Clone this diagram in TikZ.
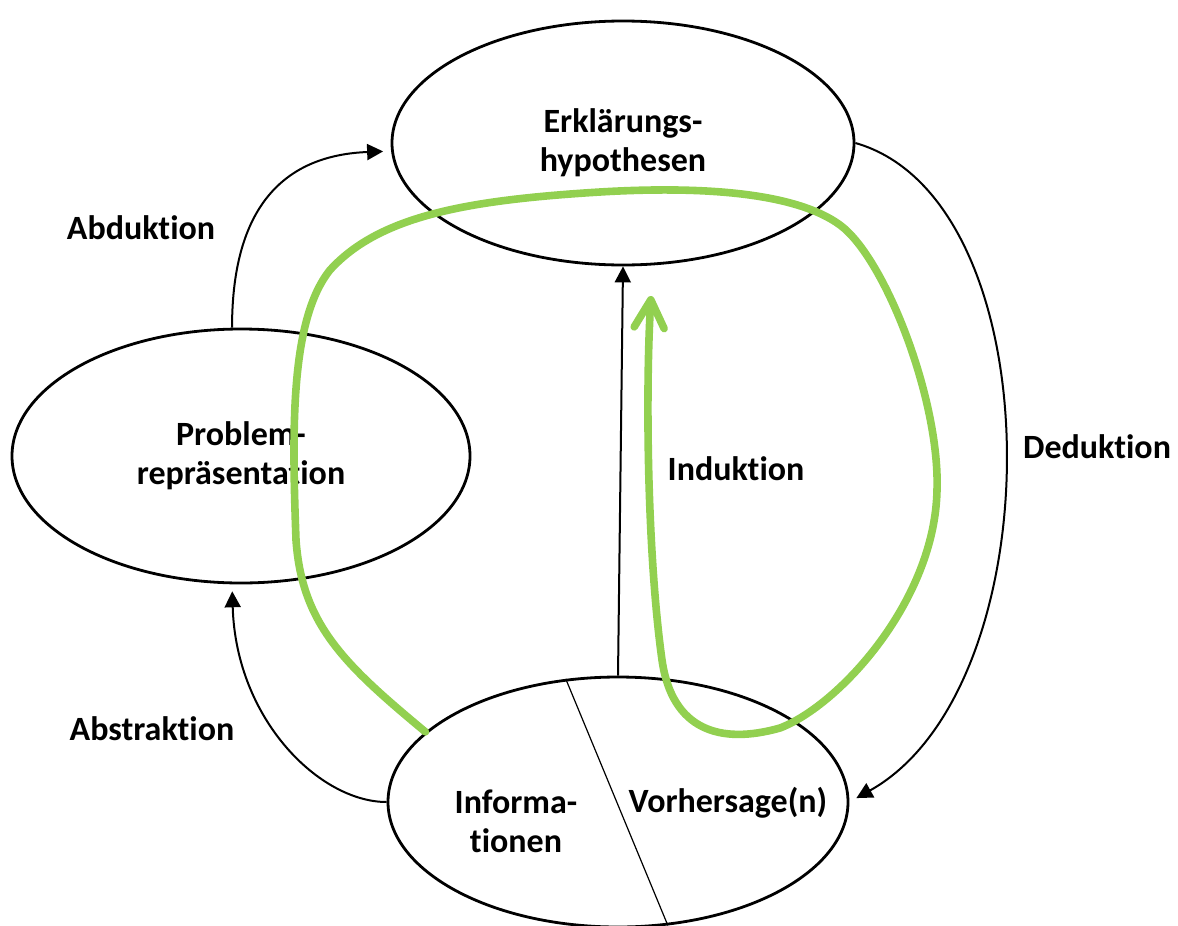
\documentclass[tikz,border=0pt]{standalone}
\usepackage{fontspec}
\setmainfont{Carlito}[Ligatures=NoCommon]
\usetikzlibrary{shapes.geometric,arrows.meta}
\definecolor{loopgreen}{RGB}{146,208,80}
\tikzset{
  ell/.style={ellipse, draw, line width=1.4pt, inner sep=0pt},
  lbl/.style={font=\bfseries\fontsize{17}{19.5}\selectfont, align=center},
  conn/.style={line width=1pt, -{Triangle[length=8pt,width=8pt]}},
  greenloop/.style={line width=3.8pt, draw=loopgreen, line cap=round, line join=round,
    -{Straight Barb[round,length=14pt,width=15pt]}}
}
\begin{document}
\begin{tikzpicture}[x=0.5pt,y=-0.5pt]
\useasboundingbox (0,0) rectangle (1178,926);
\clip (0,0) rectangle (1178,926);

% the three stations of the cycle
\node[ell, lbl, minimum width=231pt, minimum height=122pt] (hyp) at (623,143) {Erklärungs-\\hypothesen};
\node[ell, lbl, minimum width=229pt, minimum height=127pt] (prob) at (241,456) {Problem-\\repräsentation};
\node[ell, minimum width=230pt, minimum height=125pt] (info) at (618,802) {};
\node[lbl] (infotext) at (516,821) {Informa-\\tionen};
\node[lbl] (predtext) at (728,803) {Vorhersage(n)};
\draw[line width=0.6pt] (info.113.7) -- (info.-68.8);

% names of the inference steps
\node[lbl] (abd) at (141,228) {Abduktion};
\node[lbl] (abs) at (152,729) {Abstraktion};
\node[lbl] (ind) at (736,469) {Induktion};
\node[lbl] (ded) at (1097,447) {Deduktion};

% connectors
\draw[conn, shorten >=4pt] (prob.94.5) .. controls (232,200) and (290,155) .. (hyp.182);
\draw[conn, shorten >=3.5pt] (info.west) .. controls (320,802) and (236,720) .. (prob.266.4);
\draw[conn] (info.north) -- (hyp.south);
\draw[conn, shorten >=4pt] (hyp.east) .. controls (1055,200) and (1055,687) .. (info.east);

% highlighted route
\draw[greenloop] (info.160.3)
  .. controls (345,665) and (302,625) .. (296,540)
  .. controls (292,430) and (290,320) .. (330,270)
  .. controls (380,215) and (470,200) .. (600,192)
  .. controls (700,186) and (795,192) .. (840,225)
  .. controls (885,258) and (940,400) .. (937,490)
  .. controls (935,600) and (840,705) .. (780,728)
  .. controls (720,745) and (672,730) .. (662,660)
  .. controls (648,560) and (645,400) .. (651,296);
\end{tikzpicture}
\end{document}
